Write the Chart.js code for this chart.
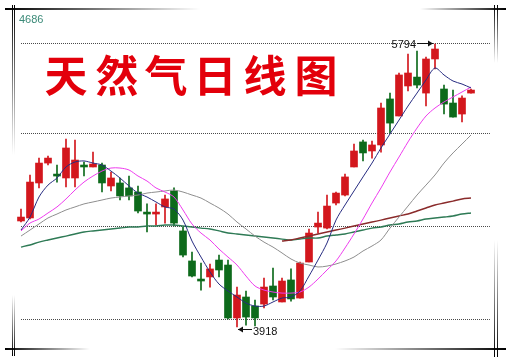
<!DOCTYPE html>
<html>
<head>
<meta charset="utf-8">
<script src="https://cdn.jsdelivr.net/npm/chart.js@4.4.1/dist/chart.umd.min.js"></script>
<style>
  html, body { margin: 0; padding: 0; background: #fff; }
  #wrap { position: relative; width: 510px; height: 359px; }
</style>
</head>
<body>
<div id="wrap"><canvas id="kline" width="510" height="359"></canvas></div>
<script>
// 天然气日线图 - daily candles with moving averages

const titleText = '天然气日线图';
const cornerLabel = '4686';

// candles, oldest first
const opens  = [4621, 4641, 4873, 5005, 4932, 4906, 4906, 4992, 4979, 4992,
                4853, 4873, 4840, 4813, 4680, 4667, 4714, 4820, 4555, 4356,
                4236, 4250, 4362, 4329, 3978, 4117, 4057, 4070, 4190, 4084,
                4230, 4110, 4349, 4581, 4574, 4740, 4793, 4979, 5145, 5085,
                5125, 5430, 5317, 5516, 5575, 5469, 5695, 5496, 5403, 5330, 5469];
const closes = [4647, 4879, 5005, 5038, 4919, 5105, 5025, 4979, 4999, 4873,
                4906, 4787, 4787, 4687, 4667, 4680, 4767, 4607, 4395, 4256,
                4223, 4303, 4296, 3978, 4130, 3984, 3978, 4183, 4117, 4223,
                4104, 4342, 4541, 4607, 4720, 4806, 4913, 5085, 5072, 5125,
                5370, 5270, 5589, 5602, 5522, 5695, 5761, 5396, 5310, 5436, 5489];
const highs  = [4700, 4926, 5038, 5052, 4992, 5164, 5158, 5012, 5078, 5005,
                4946, 4906, 4919, 4853, 4734, 4734, 4793, 4840, 4581, 4415,
                4342, 4336, 4395, 4362, 4183, 4157, 4097, 4243, 4309, 4243,
                4303, 4349, 4568, 4680, 4793, 4813, 4932, 5131, 5158, 5151,
                5403, 5469, 5602, 5728, 5748, 5708, 5794, 5522, 5489, 5450, 5496];
const lows   = [4614, 4634, 4840, 4992, 4879, 4846, 4846, 4919, 4979, 4813,
                4820, 4760, 4760, 4674, 4548, 4594, 4607, 4588, 4382, 4250,
                4163, 4183, 4250, 3971, 3918, 3931, 3925, 4044, 4097, 4084,
                4090, 4110, 4349, 4541, 4568, 4727, 4787, 4979, 5019, 5038,
                5078, 5204, 5317, 5483, 5503, 5383, 5629, 5330, 5310, 5277, 5469];

// moving averages (null = not drawn)
const ma5   = [4561, 4647, 4780, 4859, 4906, 4979, 5012, 5019, 5005, 4992,
               4952, 4906, 4853, 4806, 4780, 4747, 4714, 4700, 4627, 4488,
               4382, 4283, 4203, 4157, 4117, 4077, 4057, 4057, 4084, 4110,
               4117, 4157, 4256, 4362, 4475, 4627, 4727, 4820, 4913, 5005,
               5105, 5198, 5290, 5383, 5469, 5556, 5635, 5589, 5549, 5529, 5503];
const ma10  = [4555, 4607, 4634, 4674, 4714, 4767, 4826, 4879, 4919, 4952,
               4972, 4972, 4959, 4919, 4886, 4840, 4813, 4780, 4694, 4601,
               4541, 4495, 4435, 4382, 4329, 4256, 4190, 4163, 4150, 4143,
               4143, 4150, 4183, 4236, 4296, 4356, 4442, 4535, 4634, 4740,
               4840, 4946, 5045, 5145, 5237, 5317, 5370, 5410, 5443, 5476, 5509];
const ma20  = [4521, 4561, 4601, 4641, 4667, 4694, 4714, 4734, 4747, 4760,
               4773, 4780, 4787, 4793, 4806, 4813, 4820, 4826, 4813, 4793,
               4773, 4740, 4707, 4667, 4614, 4568, 4521, 4481, 4448, 4409,
               4369, 4342, 4329, 4316, 4322, 4336, 4356, 4382, 4422, 4455,
               4495, 4574, 4647, 4720, 4793, 4859, 4926, 5005, 5072, 5131, 5191];
const ma60  = [null, null, null, null, null, null, null, null, null, null,
               null, null, null, null, null, null, null, null, null, null,
               null, null, null, null, null, null, null, null, null, 4488,
               4495, 4508, 4521, 4535, 4548, 4561, 4574, 4588, 4601, 4614,
               4627, 4641, 4654, 4667, 4687, 4707, 4727, 4740, 4753, 4767, 4773];
const ma120 = [4448, 4462, 4481, 4495, 4508, 4521, 4535, 4548, 4555, 4561,
               4568, 4574, 4581, 4581, 4588, 4588, 4594, 4594, 4588, 4581,
               4574, 4568, 4555, 4541, 4535, 4528, 4521, 4515, 4508, 4501,
               4495, 4501, 4508, 4508, 4521, 4528, 4535, 4548, 4561, 4574,
               4581, 4594, 4601, 4614, 4621, 4634, 4641, 4647, 4654, 4667, 4674];

// dotted horizontal guide levels
const gridLevels = [3971, 4588, 5204, 5801];

const UP = '#d3171d';
const DOWN = '#0d6a1b';

const candleColors = opens.map((o, i) => closes[i] >= o ? UP : DOWN);
const xy = arr => arr.map((v, i) => ({ x: i, y: v }));

function fade(ctx, x, y, w, h, horizontal, darkAtStart) {
    const g = horizontal
        ? ctx.createLinearGradient(x, 0, x + w, 0)
        : ctx.createLinearGradient(0, y, 0, y + h);
    const dark = 'rgba(0,0,0,1)', clear = 'rgba(0,0,0,0)';
    g.addColorStop(0, darkAtStart ? dark : clear);
    g.addColorStop(1, darkAtStart ? clear : dark);
    ctx.fillStyle = g;
    ctx.fillRect(x, y, w, h);
}

function arrow(ctx, xFrom, xTo, yy) {
    ctx.beginPath();
    ctx.moveTo(xFrom, yy);
    ctx.lineTo(xTo, yy);
    ctx.stroke();
    const dir = xTo > xFrom ? 1 : -1;
    ctx.beginPath();
    ctx.moveTo(xTo, yy);
    ctx.lineTo(xTo - dir * 5, yy - 3);
    ctx.lineTo(xTo - dir * 5, yy + 3);
    ctx.closePath();
    ctx.fill();
}

const decor = {
    id: 'decor',
    beforeDatasetsDraw(chart) {
        const { ctx, scales: { x, y } } = chart;
        ctx.save();
        ctx.strokeStyle = '#4a4a4a';
        ctx.lineWidth = 1;
        ctx.setLineDash([1, 1]);
        const x0 = x.getPixelForValue(0), x1 = x.getPixelForValue(52.1);
        gridLevels.forEach(v => {
            const py = Math.round(y.getPixelForValue(v)) + 0.5;
            ctx.beginPath();
            ctx.moveTo(x0, py);
            ctx.lineTo(x1, py);
            ctx.stroke();
        });
        ctx.restore();
    },
    afterDraw(chart) {
        const { ctx, scales: { x, y } } = chart;
        ctx.save();

        // corner frame pieces
        fade(ctx, 5, 8, 195, 2, true, true);
        fade(ctx, 12, 5, 1, 150, false, true);
        fade(ctx, 14, 5, 1, 150, false, true);
        fade(ctx, 420, 8, 86, 2, true, false);
        fade(ctx, 494, 5, 1, 58, false, true);
        fade(ctx, 497, 5, 1, 58, false, true);
        fade(ctx, 5, 348, 85, 2, true, true);
        fade(ctx, 12, 295, 1, 61, false, false);
        fade(ctx, 14, 295, 1, 61, false, false);
        fade(ctx, 335, 348, 171, 2, true, false);
        fade(ctx, 494, 240, 1, 117, false, false);
        fade(ctx, 497, 240, 1, 117, false, false);

        // corner value
        ctx.font = '11px "Liberation Sans", Arial, sans-serif';
        ctx.fillStyle = '#3b8a78';
        ctx.textBaseline = 'middle';
        ctx.textAlign = 'left';
        ctx.fillText(cornerLabel, 19, 20);

        // title
        ctx.fillStyle = '#e3000b';
        ctx.font = 'bold 43px "Noto Sans CJK SC", sans-serif';
        ctx.textAlign = 'center';
        const centers = [66, 117, 166, 215, 265, 316];
        [...titleText].forEach((ch, k) => ctx.fillText(ch, centers[k], 76));

        // high / low markers
        const hiIdx = highs.indexOf(Math.max(...highs));
        const loIdx = lows.indexOf(Math.min(...lows));
        ctx.fillStyle = '#111';
        ctx.strokeStyle = '#111';
        ctx.lineWidth = 1;
        ctx.font = '11px "Liberation Sans", Arial, sans-serif';

        const hx = x.getPixelForValue(hiIdx);
        const hy = Math.round(y.getPixelForValue(highs[hiIdx])) - 0.5;
        arrow(ctx, hx - 18, hx - 2, hy);
        ctx.textAlign = 'right';
        ctx.fillText(String(highs[hiIdx]), hx - 19, hy + 1);

        const lx = x.getPixelForValue(loIdx);
        const ly = Math.round(y.getPixelForValue(lows[loIdx])) + 2.5;
        arrow(ctx, lx + 15, lx + 1, ly);
        ctx.textAlign = 'left';
        ctx.fillText(String(lows[loIdx]), lx + 16, ly + 2);

        ctx.restore();
    }
};

new Chart(document.getElementById('kline'), {
    type: 'bar',
    data: {
        datasets: [
            { type: 'line', data: xy(ma5), borderColor: '#262b80', borderWidth: 1, order: 0 },
            { type: 'line', data: xy(ma10), borderColor: '#ee3bee', borderWidth: 1, order: 0 },
            { type: 'line', data: xy(ma20), borderColor: '#8e8e8e', borderWidth: 1, order: 0 },
            { type: 'line', data: xy(ma60), borderColor: '#8a2b2b', borderWidth: 1.4, order: 0 },
            { type: 'line', data: xy(ma120), borderColor: '#2e7a55', borderWidth: 1.4, order: 0 },
            {
                data: opens.map((o, i) => ({ x: i, y: [o, closes[i]] })),
                backgroundColor: candleColors,
                barThickness: 7,
                grouped: false,
                borderWidth: 0,
                order: 1
            },
            {
                data: lows.map((l, i) => ({ x: i, y: [l, highs[i]] })),
                backgroundColor: candleColors,
                barThickness: 1,
                grouped: false,
                borderWidth: 0,
                order: 2
            }
        ]
    },
    options: {
        responsive: false,
        devicePixelRatio: 1,
        animation: false,
        layout: { padding: 0 },
        elements: {
            point: { radius: 0 },
            line: { tension: 0.3, fill: false }
        },
        scales: {
            x: { type: 'linear', min: -2.333, max: 54.333, offset: false, display: false },
            y: { type: 'linear', min: 3706, max: 6086, display: false }
        },
        plugins: {
            legend: { display: false },
            tooltip: { enabled: false }
        }
    },
    plugins: [decor]
});
</script>
</body>
</html>
